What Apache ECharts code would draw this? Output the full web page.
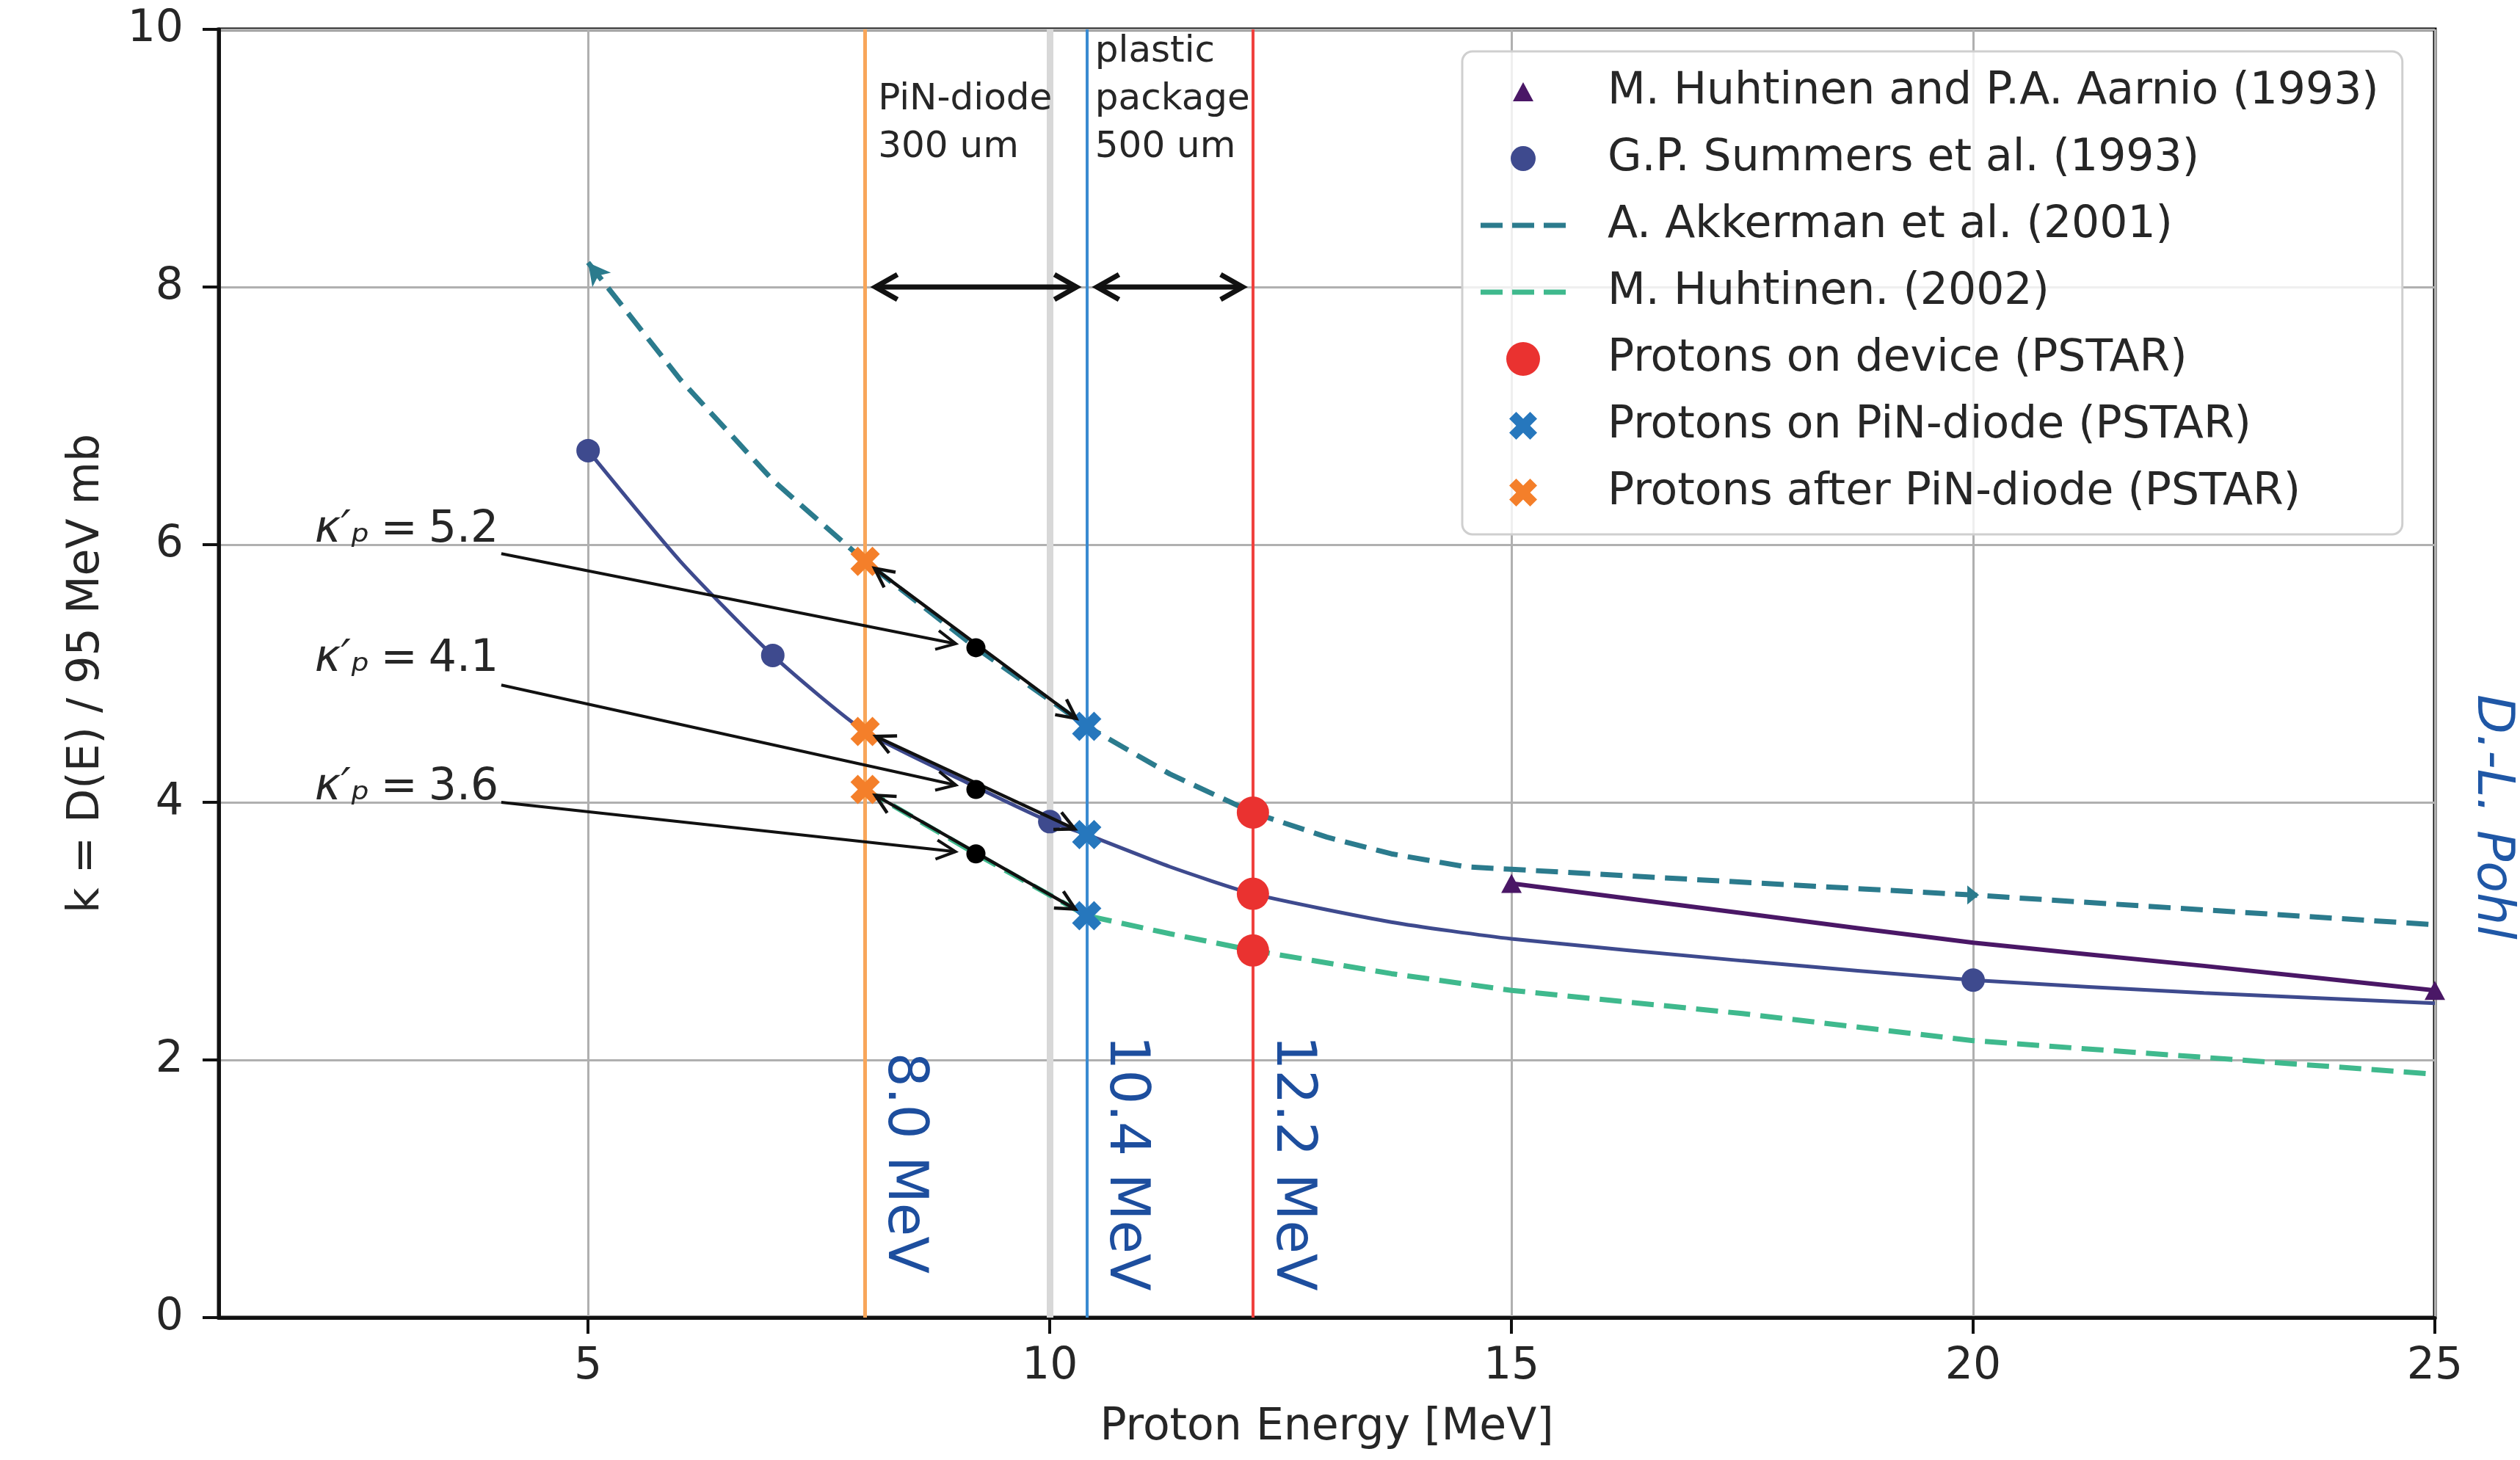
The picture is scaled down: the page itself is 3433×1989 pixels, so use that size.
<!DOCTYPE html>
<html>
<head>
<meta charset="utf-8">
<script src="https://cdn.jsdelivr.net/npm/echarts@6/dist/echarts.min.js"></script>
<style>
  html, body { margin: 0; padding: 0; background: #ffffff; }
  #chart { width: 3433px; height: 1989px; }
</style>
</head>
<body>
<div id="chart"></div>
<script>
// ---------------- data: proton energy [MeV] vs k = D(E) / 95 MeV mb ----------------
const xTicks = [5, 10, 15, 20, 25];
const yTicks = [0, 2, 4, 6, 8, 10];

// M. Huhtinen and P.A. Aarnio (1993)
const aarnioX = [15, 17.5, 20, 22.5, 25];
const aarnioY = [3.37, 3.14, 2.91, 2.73, 2.54];
const aarnioPointX = [15, 25];
const aarnioPointY = [3.37, 2.54];

// G.P. Summers et al. (1993)
const summersX = [5, 6, 7, 8, 9.2, 10, 10.4, 11.3, 12.2, 13.7, 15, 17.5, 20, 22.5, 25];
const summersY = [6.73, 5.87, 5.14, 4.55, 4.12, 3.85, 3.75, 3.50, 3.29, 3.07, 2.94, 2.77, 2.62, 2.52, 2.44];
const summersPointX = [5, 7, 10, 20];
const summersPointY = [6.73, 5.14, 3.85, 2.62];

// A. Akkerman et al. (2001)
const akkermanX = [5, 6, 7, 8, 9.2, 10.4, 11.3, 12.2, 13, 13.7, 14.5, 15, 20, 25];
const akkermanY = [8.19, 7.28, 6.50, 5.87, 5.20, 4.59, 4.22, 3.92, 3.73, 3.60, 3.50, 3.48, 3.28, 3.05];
const akkermanPointX = [5, 20];
const akkermanPointY = [8.19, 3.28];

// M. Huhtinen (2002)
const huhtinen02X = [8, 9.2, 10.4, 11.3, 12.2, 13.7, 15, 17.5, 20, 22.5, 25];
const huhtinen02Y = [4.10, 3.60, 3.12, 2.98, 2.85, 2.67, 2.54, 2.36, 2.15, 2.02, 1.89];

// PSTAR energies and the k values read on the three curves
const energyAfterDiode = 8.0;
const energyOnDiode = 10.4;
const energyOnDevice = 12.2;
const kAfterDiode = [5.87, 4.55, 4.10];
const kOnDiode = [4.59, 3.75, 3.12];
const kOnDevice = [3.92, 3.29, 2.85];

// effective hardness factors in the middle of the diode
const kappaE = 9.2;
const kappaP = [5.2, 4.1, 3.6];

// ---------------- annotation anchors (data coordinates) ----------------
const kappaTextX = 2.04;
const kappaTextY = [6.11, 5.11, 4.11];
const kappaTailX = 4.06;
const kappaTailY = [5.93, 4.91, 4.00];
const spanArrowY = 8;
const layerNotes = [
  { x: 8.14, y: 8.9, text: 'PiN-diode\n300 um' },
  { x: 10.49, y: 8.9, text: 'plastic\npackage\n500 um' }
];
const energyLabelY = 1.2;

// ---------------- styles ----------------
const FONT = 'DejaVu Sans';
const INK = '#262626';
const C = {
  aarnio: '#4a1766',
  summers: '#3e4a8e',
  akkerman: '#2b7b8d',
  huhtinen: '#3fb98d',
  device: '#ea3230',
  diode: '#2677bd',
  after: '#f47f2a',
  deviceLine: '#f0413e',
  diodeLine: '#3a8bd1',
  afterLine: '#f8a65a',
  energyText: '#1d4e9e'
};
const NAMES = {
  aarnio: 'M. Huhtinen and P.A. Aarnio (1993)',
  summers: 'G.P. Summers et al. (1993)',
  akkerman: 'A. Akkerman et al. (2001)',
  huhtinen: 'M. Huhtinen. (2002)',
  device: 'Protons on device (PSTAR)',
  diode: 'Protons on PiN-diode (PSTAR)',
  after: 'Protons after PiN-diode (PSTAR)'
};

const X_MARK = 'path://M15,0L20,5L15,10L20,15L15,20L10,15L5,20L0,15L5,10L0,5L5,0L10,5Z';
const SOLID = { opacity: 1 };

// legend handles are drawn in a 120 x 48 box; tiny corner specks fix the box size
const BOX = ' M0,0L0.01,0L0.01,0.01Z M119.99,47.99L120,47.99L120,48Z';
const ICON_TRI = 'path://M60,11L74,37L46,37Z' + BOX;
const ICON_DOT_S = 'path://M43,24A17,17 0 1 1 77,24A17,17 0 1 1 43,24Z' + BOX;
const ICON_DOT_L = 'path://M37,24A23,23 0 1 1 83,24A23,23 0 1 1 37,24Z' + BOX;
const ICON_X = 'path://M69.5,5L79,14.5L69.5,24L79,33.5L69.5,43L60,33.5L50.5,43L41,33.5L50.5,24L41,14.5L50.5,5L60,14.5Z' + BOX;
const ICON_DASH = 'path://M2,20.5L32,20.5L32,27.5L2,27.5Z M45,20.5L75,20.5L75,27.5L45,27.5Z M88,20.5L118,20.5L118,27.5L88,27.5Z' + BOX;

const pts = (xs, ys) => xs.map((x, i) => [x, ys[i]]);
const column = (x, ys) => ys.map(y => [x, y]);

// ---------------- arrow drawing through the cartesian scales ----------------
function arrowRenderer(o) {
  return function (params, api) {
    const a = api.coord([api.value(0), api.value(1)]);
    const b = api.coord([api.value(2), api.value(3)]);
    const dx = b[0] - a[0], dy = b[1] - a[1];
    const len = Math.hypot(dx, dy) || 1;
    const ux = dx / len, uy = dy / len;
    const s = [a[0] + ux * o.shrinkA, a[1] + uy * o.shrinkA];
    const e = [b[0] - ux * o.shrinkB, b[1] - uy * o.shrinkB];
    const stroke = { stroke: '#111', lineWidth: o.width, fill: 'none', lineJoin: 'miter', lineCap: 'butt' };
    const head = (tip, vx, vy) => {
      const bx = tip[0] - vx * o.headLen, by = tip[1] - vy * o.headLen;
      const px = -vy * o.headHalf, py = vx * o.headHalf;
      return { type: 'polyline', shape: { points: [[bx + px, by + py], tip, [bx - px, by - py]] }, style: stroke };
    };
    const children = [{ type: 'line', shape: { x1: s[0], y1: s[1], x2: e[0], y2: e[1] }, style: stroke }];
    if (o.headStart) children.push(head(s, -ux, -uy));
    if (o.headEnd) children.push(head(e, ux, uy));
    return { type: 'group', children };
  };
}

const spanArrows = [
  [energyAfterDiode, spanArrowY, energyOnDiode, spanArrowY],
  [energyOnDiode, spanArrowY, energyOnDevice, spanArrowY]
];
const diodeArrows = kAfterDiode.map((k, i) => [energyAfterDiode, k, energyOnDiode, kOnDiode[i]]);
const kappaArrows = kappaP.map((k, i) => [kappaTailX, kappaTailY[i], kappaE, k]);

const kappaLabels = kappaP.map((k, i) => ({
  value: [kappaTextX, kappaTextY[i]],
  text: '{i|κ′ₚ}{n|\u2005=\u2005' + k.toFixed(1) + '}'
}));
const energies = [energyAfterDiode, energyOnDiode, energyOnDevice];

const option = {
  animation: false,
  backgroundColor: '#ffffff',
  textStyle: { fontFamily: FONT },
  grid: {
    left: 298, top: 40, width: 3019, height: 1755,
    show: true, borderColor: '#111', borderWidth: 5, backgroundColor: 'transparent'
  },
  xAxis: {
    type: 'value', min: 1, max: 25, splitNumber: 5,
    name: 'Proton Energy [MeV]', nameLocation: 'middle', nameGap: 120,
    nameTextStyle: { fontSize: 60, color: INK, fontFamily: FONT },
    axisLine: { show: true, onZero: false, lineStyle: { color: '#111', width: 5 } },
    axisTick: { show: true, length: 22, lineStyle: { color: '#111', width: 4 }, customValues: xTicks },
    axisLabel: { fontSize: 60, color: INK, fontFamily: FONT, margin: 37, customValues: xTicks },
    splitLine: { show: true, lineStyle: { color: '#b0b0b0', width: 3 } }
  },
  yAxis: {
    type: 'value', min: 0, max: 10, interval: 2,
    name: 'k = D(E) / 95 MeV mb', nameLocation: 'middle', nameGap: 150,
    nameTextStyle: { fontSize: 60, color: INK, fontFamily: FONT },
    axisLine: { show: true, onZero: false, lineStyle: { color: '#111', width: 5 } },
    axisTick: { show: true, length: 22, lineStyle: { color: '#111', width: 4 } },
    axisLabel: { fontSize: 60, color: INK, fontFamily: FONT, margin: 48,
                 formatter: v => (yTicks.indexOf(v) >= 0 ? String(v) : '') },
    splitLine: { show: true, lineStyle: { color: '#b0b0b0', width: 3 } }
  },
  legend: {
    orient: 'vertical', left: 1992, top: 70,
    padding: [25, 32, 27, 23], itemGap: 31, itemWidth: 120, itemHeight: 48,
    backgroundColor: 'rgba(255,255,255,0.8)', borderColor: '#cfcfcf', borderWidth: 3, borderRadius: 14,
    selectedMode: false,
    itemStyle: { borderWidth: 0, opacity: 1 },
    textStyle: { fontSize: 60, color: INK, fontFamily: FONT, lineHeight: 60, padding: [0, 0, 0, 50] },
    data: [
      { name: NAMES.aarnio, icon: ICON_TRI },
      { name: NAMES.summers, icon: ICON_DOT_S },
      { name: NAMES.akkerman, icon: ICON_DASH },
      { name: NAMES.huhtinen, icon: ICON_DASH },
      { name: NAMES.device, icon: ICON_DOT_L },
      { name: NAMES.diode, icon: ICON_X },
      { name: NAMES.after, icon: ICON_X }
    ]
  },
  graphic: [{
    type: 'text', x: 3394, y: 1113, rotation: -Math.PI / 2, silent: true,
    style: { text: 'D.-L. Pohl', fontSize: 70, fontStyle: 'italic', fontFamily: FONT,
             fill: '#1f57a6', align: 'center', verticalAlign: 'middle' }
  }],
  series: [
    // vertical lines at the PSTAR energies (and the pale line at 10 MeV)
    {
      type: 'line', name: 'PSTAR energies', data: [], silent: true,
      markLine: {
        z: 1, silent: true, symbol: ['none', 'none'], label: { show: false },
        emphasis: { disabled: true },
        data: [
          { xAxis: 10, lineStyle: { color: '#d8d8d8', width: 9, type: 'solid' } },
          { xAxis: energyAfterDiode, lineStyle: { color: C.afterLine, width: 5, type: 'solid' } },
          { xAxis: energyOnDiode, lineStyle: { color: C.diodeLine, width: 4, type: 'solid' } },
          { xAxis: energyOnDevice, lineStyle: { color: C.deviceLine, width: 4, type: 'solid' } }
        ]
      }
    },
    // curves
    {
      type: 'line', name: NAMES.akkerman, color: C.akkerman, z: 2, symbol: 'none',
      data: pts(akkermanX, akkermanY),
      lineStyle: { color: C.akkerman, width: 7, type: [30, 14] }
    },
    {
      type: 'scatter', name: NAMES.akkerman, color: C.akkerman, z: 3, itemStyle: SOLID,
      data: [
        { value: [akkermanPointX[0], akkermanPointY[0]], symbol: 'arrow', symbolSize: [24, 30], symbolRotate: 38 },
        { value: [akkermanPointX[1], akkermanPointY[1]], symbol: 'triangle', symbolSize: [26, 16], symbolRotate: -90 }
      ]
    },
    {
      type: 'line', name: NAMES.huhtinen, color: C.huhtinen, z: 2, symbol: 'none',
      data: pts(huhtinen02X, huhtinen02Y),
      lineStyle: { color: C.huhtinen, width: 7, type: [30, 14] }
    },
    {
      type: 'line', name: NAMES.summers, color: C.summers, z: 2, symbol: 'none',
      smooth: 0.2,
      data: pts(summersX, summersY),
      lineStyle: { color: C.summers, width: 5 }
    },
    {
      type: 'line', name: NAMES.aarnio, color: C.aarnio, z: 2, symbol: 'none',
      smooth: 0.2,
      data: pts(aarnioX, aarnioY),
      lineStyle: { color: C.aarnio, width: 6 }
    },
    // markers
    {
      type: 'scatter', name: NAMES.aarnio, color: C.aarnio, z: 3, itemStyle: SOLID,
      symbol: 'triangle', symbolSize: [28, 26], data: pts(aarnioPointX, aarnioPointY)
    },
    {
      type: 'scatter', name: NAMES.summers, color: C.summers, z: 3, itemStyle: SOLID,
      symbol: 'circle', symbolSize: 32, data: pts(summersPointX, summersPointY)
    },
    {
      type: 'scatter', name: NAMES.device, color: C.device, z: 4, itemStyle: SOLID,
      symbol: 'circle', symbolSize: 44, data: column(energyOnDevice, kOnDevice)
    },
    {
      type: 'scatter', name: NAMES.diode, color: C.diode, z: 4, itemStyle: SOLID,
      symbol: X_MARK, symbolSize: 40, data: column(energyOnDiode, kOnDiode)
    },
    {
      type: 'scatter', name: NAMES.after, color: C.after, z: 4, itemStyle: SOLID,
      symbol: X_MARK, symbolSize: 40, data: column(energyAfterDiode, kAfterDiode)
    },
    // arrows
    {
      type: 'custom', name: 'layer span', z: 5, silent: true,
      encode: { x: [0, 2], y: [1, 3] }, data: spanArrows,
      renderItem: arrowRenderer({ shrinkA: 14, shrinkB: 14, width: 7, headLen: 30, headHalf: 17, headStart: true, headEnd: true })
    },
    {
      type: 'custom', name: 'diode traverse', z: 5, silent: true,
      encode: { x: [0, 2], y: [1, 3] }, data: diodeArrows,
      renderItem: arrowRenderer({ shrinkA: 16, shrinkB: 18, width: 4.5, headLen: 26, headHalf: 13, headStart: true, headEnd: true })
    },
    {
      type: 'custom', name: 'kappa pointer', z: 5, silent: true,
      encode: { x: [0, 2], y: [1, 3] }, data: kappaArrows,
      renderItem: arrowRenderer({ shrinkA: 0, shrinkB: 28, width: 4, headLen: 26, headHalf: 13, headStart: false, headEnd: true })
    },
    {
      type: 'scatter', name: 'kappa', color: '#000', z: 6, itemStyle: SOLID,
      symbol: 'circle', symbolSize: 26, data: column(kappaE, kappaP)
    },
    // texts anchored to the data coordinates
    {
      type: 'custom', name: 'kappa labels', z: 6, silent: true,
      encode: { x: 0, y: 1 }, data: kappaLabels,
      renderItem: (params, api) => {
        const p = api.coord([api.value(0), api.value(1)]);
        return {
          type: 'text', x: p[0], y: p[1],
          style: {
            text: kappaLabels[params.dataIndex].text, align: 'left', verticalAlign: 'middle',
            rich: {
              i: { fontSize: 60, fontFamily: FONT, fontStyle: 'italic', fill: INK },
              n: { fontSize: 60, fontFamily: FONT, fill: INK }
            }
          }
        };
      }
    },
    {
      type: 'custom', name: 'layer notes', z: 6, silent: true,
      encode: { x: 0, y: 1 }, data: layerNotes.map(n => [n.x, n.y]),
      renderItem: (params, api) => {
        const p = api.coord([api.value(0), api.value(1)]);
        return {
          type: 'text', x: p[0], y: p[1],
          style: { text: layerNotes[params.dataIndex].text, fontSize: 50, lineHeight: 65,
                   fontFamily: FONT, fill: INK, align: 'left', verticalAlign: 'bottom' }
        };
      }
    },
    {
      type: 'custom', name: 'energy labels', z: 6, silent: true,
      encode: { x: 0, y: 1 }, data: energies.map(e => [e, energyLabelY]),
      renderItem: (params, api) => {
        const p = api.coord([api.value(0), api.value(1)]);
        return {
          type: 'text', x: p[0] + 52, y: p[1], rotation: -Math.PI / 2,
          style: { text: energies[params.dataIndex].toFixed(1) + ' MeV', fontSize: 74,
                   fontFamily: FONT, fill: C.energyText, align: 'center', verticalAlign: 'middle' }
        };
      }
    }
  ]
};

const chart = echarts.init(document.getElementById('chart'), null, { renderer: 'canvas', width: 3433, height: 1989 });
chart.setOption(option);
</script>
</body>
</html>
